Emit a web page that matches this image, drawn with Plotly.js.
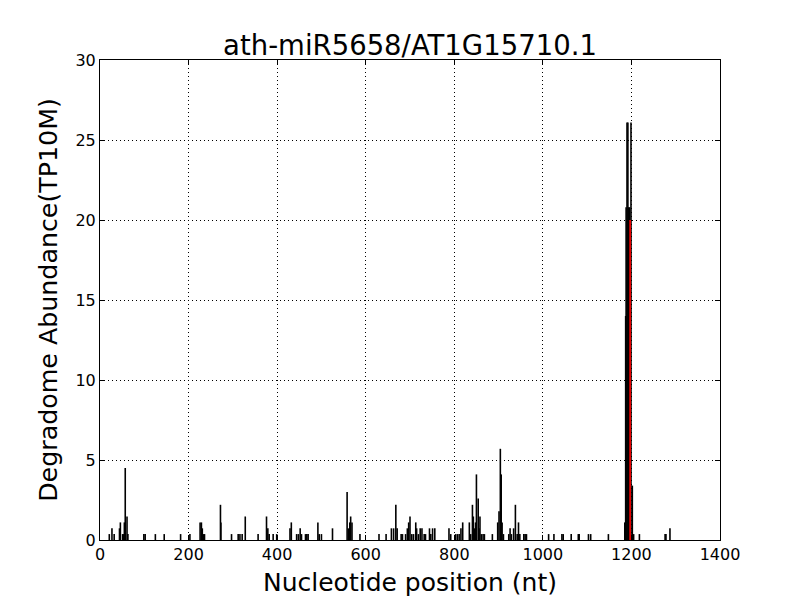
<!DOCTYPE html>
<html><head><meta charset="utf-8">
<script src="https://cdn.plot.ly/plotly-3.0.1.min.js"></script>
<style>html,body{margin:0;padding:0;background:#fff}</style>
</head><body>
<div id="chart" style="width:800px;height:600px"></div>
<script>
const positions = [21,27,32,44,46,51,53,55,57,61,63,99,102,125,145,182,203,226,229,231,234,236,272,273,297,312,316,321,328,357,376,379,382,391,399,429,432,444,448,452,455,464,467,470,492,495,500,525,558,561,564,566,569,587,630,646,658,663,668,671,680,683,690,694,697,700,704,708,713,715,719,723,727,732,735,744,747,751,756,788,792,803,807,811,815,819,834,837,841,843,845,848,850,854,856,858,861,865,868,886,898,901,904,906,908,911,923,926,929,934,938,942,945,948,957,960,963,1013,1025,1043,1046,1064,1080,1082,1103,1108,1148,1185,1187,1188,1190,1192,1194,1196,1199,1202,1205,1218,1276,1278,1287];
const abundance = [0.37,0.73,0.37,0.73,1.1,0.37,0.37,1.1,4.5,1.47,0.37,0.37,0.37,0.37,0.37,0.37,0.37,1.1,1.1,0.73,0.37,0.37,2.2,1.1,0.37,0.37,0.37,0.37,1.47,0.37,1.47,0.73,0.37,0.37,0.37,0.73,1.1,0.37,0.37,0.73,0.37,0.37,0.37,0.37,1.1,0.37,0.37,0.73,3.0,0.73,1.1,1.47,1.1,0.37,0.37,0.37,0.73,0.73,2.2,0.73,0.37,0.37,0.37,0.73,1.1,1.47,0.37,0.37,1.1,0.73,0.37,0.73,0.73,0.37,0.37,0.73,0.37,0.73,0.73,0.73,0.37,0.37,0.37,0.37,0.73,1.1,1.1,0.37,2.2,1.47,0.73,1.1,4.1,2.6,0.73,1.47,0.37,0.37,0.37,0.37,1.1,1.8,5.7,4.1,1.1,0.37,0.37,0.73,0.37,0.73,2.2,0.37,1.1,0.37,0.37,0.37,0.37,0.37,0.37,0.37,0.37,0.37,0.37,0.37,0.37,0.37,0.37,1.1,14.0,20.8,26.1,26.1,20.8,20.8,26.1,3.4,0.37,0.37,0.37,0.37,0.73];
const sitePosition = [1197];
const siteAbundance = [20.0];
const xTicks = [0,200,400,600,800,1000,1200,1400];
const yTicks = [0,5,10,15,20,25,30];

function stems(xs, ys){
  const x=[], y=[];
  for(let i=0;i<xs.length;i++){ x.push(xs[i],xs[i],null); y.push(0,ys[i],null); }
  return {x,y};
}
const s1 = stems(positions, abundance);
const s2 = stems(sitePosition, siteAbundance);
const font = "DejaVu Sans, sans-serif";
const axisCommon = {
  showline:true, linecolor:'black', linewidth:1, mirror:'ticks',
  ticks:'inside', ticklen:5, tickcolor:'black',
  showgrid:true, gridcolor:'black', griddash:'1px,3px', gridwidth:1,
  zeroline:false, tickfont:{family:font,size:16,color:'black'}
};
Plotly.newPlot('chart', [
  {x:s1.x, y:s1.y, type:'scatter', mode:'lines', line:{color:'black', width:1.6}, hoverinfo:'skip'},
  {x:s2.x, y:s2.y, type:'scatter', mode:'lines', line:{color:'red', width:1.6}, hoverinfo:'skip'}
], {
  width:800, height:600, showlegend:false,
  paper_bgcolor:'white', plot_bgcolor:'white',
  margin:{l:100, r:80, t:60, b:60},
  title:{text:'ath-miR5658/AT1G15710.1', font:{family:font,size:27.5,color:'black'}, xref:'paper', x:0.5, xanchor:'center', y:0.925, yanchor:'middle'},
  xaxis:Object.assign({}, axisCommon, {range:[0,1400], tickvals:xTicks, ticktext:xTicks.map(String),
    title:{text:'Nucleotide position (nt)', font:{family:font,size:25,color:'black'}, standoff:10}}),
  yaxis:Object.assign({}, axisCommon, {range:[0,30], tickvals:yTicks, ticktext:yTicks.map(String),
    title:{text:'Degradome Abundance(TP10M)', font:{family:font,size:25.3,color:'black'}, standoff:10}})
}, {staticPlot:true});
</script>
</body></html>
